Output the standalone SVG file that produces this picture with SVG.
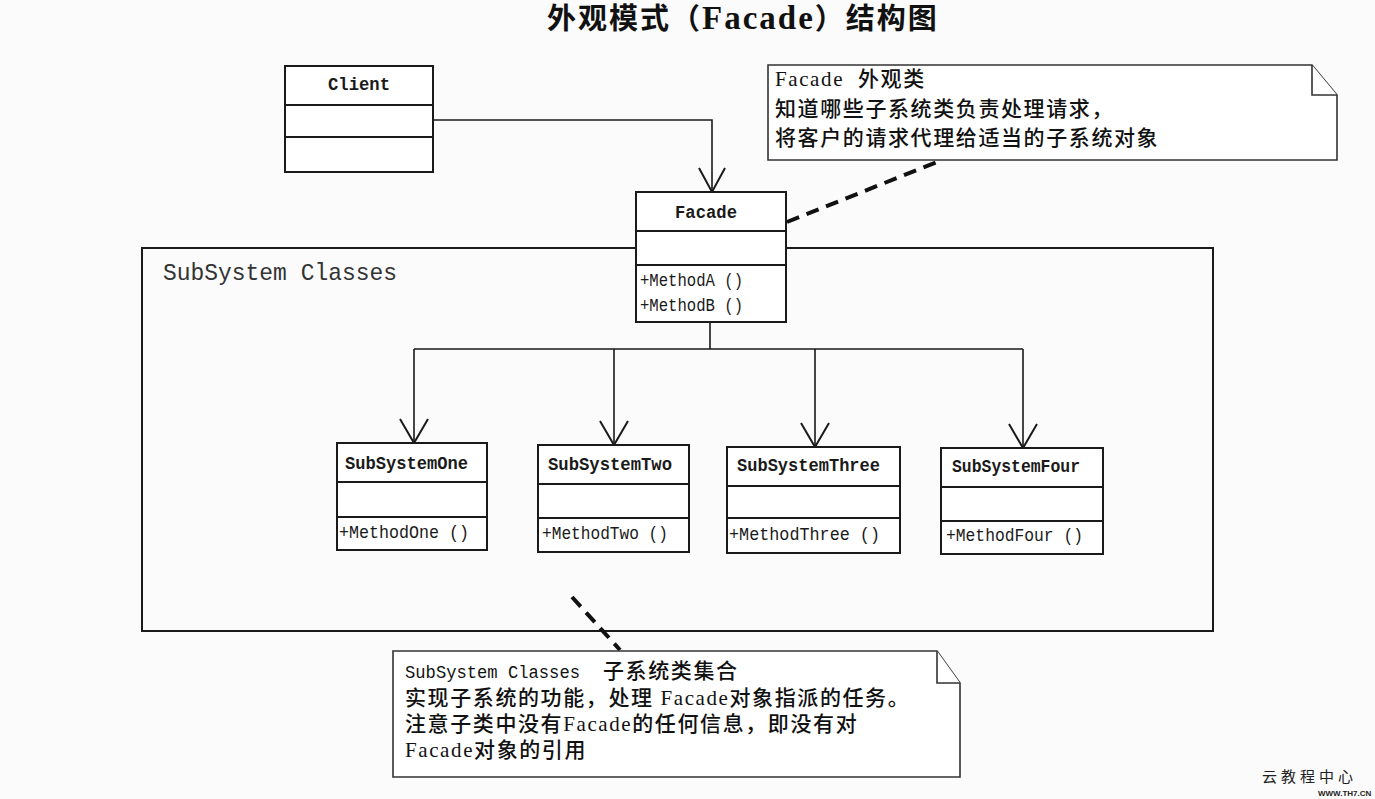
<svg xmlns="http://www.w3.org/2000/svg" width="1375" height="799" viewBox="0 0 1375 799">
<style>
.box{fill:#fff;stroke:#1a1a1a;stroke-width:2}
.div{stroke:#1a1a1a;stroke-width:2}
.ln{stroke:#1a1a1a;stroke-width:1.6;fill:none}
.arr{stroke:#1a1a1a;stroke-width:2;fill:none}
.dash{stroke:#111;stroke-width:4;stroke-dasharray:13 8;fill:none}
.name{font-family:"Liberation Mono",monospace;font-weight:bold;font-size:18px;fill:#1a1a1a}
.meth{font-family:"Liberation Mono",monospace;font-size:18px;fill:#1a1a1a}
.note{fill:#fff;stroke:#333;stroke-width:1.6}
.nt{font-family:"Liberation Serif","Noto Sans CJK SC",serif;font-size:21px;font-weight:500;letter-spacing:1.6px;fill:#111}
</style>
<rect x="0" y="0" width="1375" height="799" fill="#fbfbfb"/>
<text x="547" y="29" font-family="Liberation Serif,'Noto Sans CJK SC',serif" font-weight="bold" font-size="29" letter-spacing="2" fill="#111">外观模式（<tspan font-size="33">Facade</tspan>）结构图</text>

<g id="package">
<rect x="142" y="248" width="1071" height="383" fill="none" stroke="#1a1a1a" stroke-width="2"/>
<text x="163" y="280" font-family="Liberation Mono,monospace" font-size="24" fill="#333" textLength="234" lengthAdjust="spacingAndGlyphs">SubSystem Classes</text>
</g>

<g id="connectors">
<path class="ln" d="M433,120 H712 V192"/>
<path class="arr" d="M699,168 L712,192 L725,168"/>
<path class="ln" d="M710,322 V349 M414,349 H1023 M414,349 V443 M614,349 V445 M815,349 V447 M1023,349 V448"/>
<path class="arr" d="M400,419 L414,443 L428,419 M600,421 L614,445 L628,421 M801,423 L815,447 L829,423 M1009,424 L1023,448 L1037,424"/>
<path class="dash" d="M787,222 L942,160"/>
<path class="dash" d="M572,597 L620,650"/>
</g>

<g id="client">
<rect class="box" x="285" y="66" width="148" height="106"/>
<line class="div" x1="285" y1="105" x2="433" y2="105"/>
<line class="div" x1="285" y1="137" x2="433" y2="137"/>
<text class="name" x="328" y="90" textLength="62" lengthAdjust="spacingAndGlyphs">Client</text>
</g>

<g id="facade">
<rect class="box" x="636" y="192" width="150" height="130"/>
<line class="div" x1="636" y1="231" x2="786" y2="231"/>
<line class="div" x1="636" y1="265" x2="786" y2="265"/>
<text class="name" x="675" y="218" textLength="62" lengthAdjust="spacingAndGlyphs">Facade</text>
<text class="meth" x="640" y="286" textLength="103" lengthAdjust="spacingAndGlyphs">+MethodA ()</text>
<text class="meth" x="640" y="311" textLength="103" lengthAdjust="spacingAndGlyphs">+MethodB ()</text>
</g>

<g id="subsystem-one">
<rect class="box" x="337" y="443" width="150" height="107"/>
<line class="div" x1="337" y1="482" x2="487" y2="482"/>
<line class="div" x1="337" y1="517" x2="487" y2="517"/>
<text class="name" x="345" y="469" textLength="123" lengthAdjust="spacingAndGlyphs">SubSystemOne</text>
<text class="meth" x="339" y="538" textLength="130" lengthAdjust="spacingAndGlyphs">+MethodOne ()</text>
</g>

<g id="subsystem-two">
<rect class="box" x="538" y="445" width="151" height="107"/>
<line class="div" x1="538" y1="484" x2="689" y2="484"/>
<line class="div" x1="538" y1="518" x2="689" y2="518"/>
<text class="name" x="548" y="470" textLength="124" lengthAdjust="spacingAndGlyphs">SubSystemTwo</text>
<text class="meth" x="542" y="539" textLength="126" lengthAdjust="spacingAndGlyphs">+MethodTwo ()</text>
</g>

<g id="subsystem-three">
<rect class="box" x="727" y="447" width="173" height="106"/>
<line class="div" x1="727" y1="486" x2="900" y2="486"/>
<line class="div" x1="727" y1="518" x2="900" y2="518"/>
<text class="name" x="737" y="471" textLength="143" lengthAdjust="spacingAndGlyphs">SubSystemThree</text>
<text class="meth" x="729" y="540" textLength="151" lengthAdjust="spacingAndGlyphs">+MethodThree ()</text>
</g>

<g id="subsystem-four">
<rect class="box" x="941" y="448" width="162" height="106"/>
<line class="div" x1="941" y1="487" x2="1103" y2="487"/>
<line class="div" x1="941" y1="521" x2="1103" y2="521"/>
<text class="name" x="952" y="472" textLength="128" lengthAdjust="spacingAndGlyphs">SubSystemFour</text>
<text class="meth" x="946" y="541" textLength="137" lengthAdjust="spacingAndGlyphs">+MethodFour ()</text>
</g>

<g id="note-facade">
<path class="note" d="M768,65 H1312 L1337,95 V160 H768 Z"/>
<path class="note" d="M1312,65 V95 H1337"/>
<text class="nt" x="775" y="86">Facade<tspan x="858">外观类</tspan></text>
<text class="nt" x="775" y="116">知道哪些子系统类负责处理请求，</text>
<text class="nt" x="775" y="145">将客户的请求代理给适当的子系统对象</text>
</g>

<g id="note-subsystem">
<path class="note" d="M393,651 H937 L960,683 V777 H393 Z"/>
<path class="note" d="M937,651 V683 H960"/>
<text class="nt" x="405" y="678"><tspan font-family="Liberation Mono,monospace" font-size="18" font-weight="normal" letter-spacing="0" textLength="175" lengthAdjust="spacingAndGlyphs">SubSystem Classes</tspan><tspan x="603">子系统类集合</tspan></text>
<text class="nt" x="405" y="705">实现子系统的功能，处理 Facade对象指派的任务。</text>
<text class="nt" x="405" y="731">注意子类中没有Facade的任何信息，即没有对</text>
<text class="nt" x="405" y="757">Facade对象的引用</text>
</g>

<g id="watermark">
<text x="1262" y="782" font-family="Noto Sans CJK SC,sans-serif" font-size="15" letter-spacing="4" fill="#222">云教程中心</text>
<text x="1318" y="796" font-family="Liberation Sans,sans-serif" font-size="8" font-weight="bold" fill="#222">WWW.TH7.CN</text>
</g>
</svg>
